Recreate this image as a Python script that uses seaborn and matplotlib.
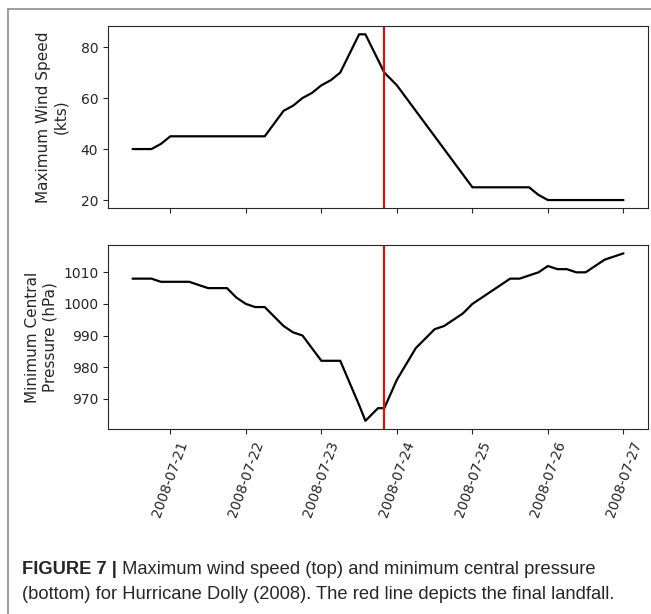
import pandas as pd
import matplotlib
matplotlib.use('Agg')
import matplotlib.pyplot as plt
import matplotlib.dates as mdates
from matplotlib.lines import Line2D
import seaborn as sns

#%% data
times = ["2008-07-20 12:00", "2008-07-20 18:00", "2008-07-20 21:00",
         "2008-07-21 00:00", "2008-07-21 06:00", "2008-07-21 09:00", "2008-07-21 12:00",
         "2008-07-21 18:00", "2008-07-21 21:00",
         "2008-07-22 00:00", "2008-07-22 03:00", "2008-07-22 06:00", "2008-07-22 12:00",
         "2008-07-22 15:00", "2008-07-22 18:00", "2008-07-22 21:00",
         "2008-07-23 00:00", "2008-07-23 03:00", "2008-07-23 06:00", "2008-07-23 12:00",
         "2008-07-23 14:00", "2008-07-23 18:00", "2008-07-23 20:00",
         "2008-07-24 00:00", "2008-07-24 06:00", "2008-07-24 12:00", "2008-07-24 15:00",
         "2008-07-24 21:00",
         "2008-07-25 00:00", "2008-07-25 06:00", "2008-07-25 12:00", "2008-07-25 15:00",
         "2008-07-25 18:00", "2008-07-25 21:00",
         "2008-07-26 00:00", "2008-07-26 03:00", "2008-07-26 06:00", "2008-07-26 09:00",
         "2008-07-26 12:00", "2008-07-26 18:00",
         "2008-07-27 00:00"]

wind_kts = [40, 40, 42,
            45, 45, 45, 45, 45, 45,
            45, 45, 45, 55, 57, 60, 62,
            65, 67, 70, 85, 85, 75, 70,
            65, 55, 45, 40, 30,
            25, 25, 25, 25, 25, 22,
            20, 20, 20, 20, 20, 20,
            20]

pressure_hpa = [1008, 1008, 1007,
                1007, 1007, 1006, 1005, 1005, 1002,
                1000, 999, 999, 993, 991, 990, 986,
                982, 982, 982, 968, 963, 967, 967,
                976, 986, 992, 993, 997,
                1000, 1004, 1008, 1008, 1009, 1010,
                1012, 1011, 1011, 1010, 1010, 1014,
                1016]

landfall = "2008-07-23 20:00"

df = pd.DataFrame({'time': pd.to_datetime(times), 'wind': wind_kts, 'pres': pressure_hpa})

#%% plot
sns.set_style('ticks')
plt.rcParams['font.family'] = ['DejaVu Sans']

fig = plt.figure(figsize=(6.51, 6.14), dpi=100)
ax1 = fig.add_axes([0.1659, 0.6607, 0.8295, 0.2969])
ax2 = fig.add_axes([0.1659, 0.301, 0.8295, 0.300], sharex=ax1)

sns.lineplot(data=df, x='time', y='wind', color='black', lw=1.6, ax=ax1)
sns.lineplot(data=df, x='time', y='pres', color='black', lw=1.6, ax=ax2)
for ax in (ax1, ax2):
    ax.axvline(pd.Timestamp(landfall), color='red', lw=1.5)
    ax.set_xlabel('')
    ax.tick_params(labelsize=10)

ax1.set_ylabel('Maximum Wind Speed\n(kts)', fontsize=11, labelpad=9)
ax2.set_ylabel('Minimum Central\nPressure (hPa)', fontsize=11, labelpad=4)
ax1.set_yticks([20, 40, 60, 80])
ax2.set_yticks([970, 980, 990, 1000, 1010])

ax2.xaxis.set_major_locator(mdates.DayLocator())
ax2.xaxis.set_major_formatter(mdates.DateFormatter('%Y-%m-%d'))
ax1.tick_params(labelbottom=False)
plt.setp(ax2.get_xticklabels(), rotation=70)

# caption
cap_font = ['Liberation Sans', 'DejaVu Sans']
t1 = fig.text(22 / 651, 1 - 574 / 614, 'FIGURE 7 |', fontsize=13.2, fontweight='bold',
              family=cap_font, va='baseline')
ax2.annotate(' Maximum wind speed (top) and minimum central pressure', xy=(1, 0),
             xycoords=t1, va='bottom', fontsize=13.2, family=cap_font,
             annotation_clip=False)
fig.text(22 / 651, 1 - 599 / 614,
         '(bottom) for Hurricane Dolly (2008). The red line depicts the final landfall.',
         fontsize=13.2, family=cap_font, va='baseline')

# page frame
fig.add_artist(Line2D([8 / 651, 1], [1 - 9 / 614] * 2, transform=fig.transFigure,
                      color='#8c8c8c', lw=1.2))
fig.add_artist(Line2D([8 / 651] * 2, [0, 1 - 9 / 614], transform=fig.transFigure,
                      color='#8c8c8c', lw=1.2))

fig.savefig('out.png', dpi=100)
